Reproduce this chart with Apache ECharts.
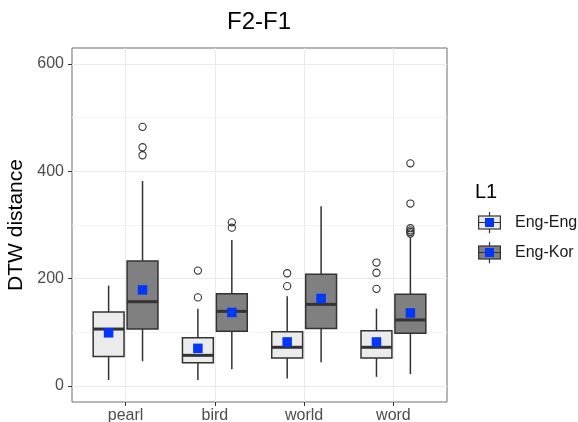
<!DOCTYPE html>
<html>
<head>
<meta charset="utf-8">
<script src="https://cdn.jsdelivr.net/npm/echarts@6/dist/echarts.min.js"></script>
<style>
html,body{margin:0;padding:0;background:#fff;}
#chart{width:578px;height:422px;}
</style>
</head>
<body>
<div id="chart"></div>
<script>
// ---- data ----
const categories = ['pearl', 'bird', 'world', 'word'];
const groupNames = ['Eng-Eng', 'Eng-Kor'];
const yTicks = [0, 200, 400, 600];
// [lower whisker, Q1, median, Q3, upper whisker]
const engEngBox = [[11, 55, 106, 138, 187], [11, 43, 57, 90, 144], [14, 52, 72, 101, 167], [17, 52, 72, 103, 144]];
const engKorBox = [[46, 106, 157, 233, 382], [31, 102, 139, 172, 272], [44, 107, 152, 208, 335], [22, 98, 123, 171, 278]];
const engEngMean = [99, 70, 82, 82];
const engKorMean = [179, 137, 163, 136];
const engEngOutliers = [[], [215, 165], [210, 186], [230, 211, 181]];
const engKorOutliers = [[483, 445, 430], [305, 295], [], [415, 340, 294, 290, 287, 284]];

// ---- styling constants ----
const FONT = '"Liberation Sans", Arial, sans-serif';
const DODGE = 0.19;      // centre offset of each group, in category bands
const HALF = 0.173;      // half box width, in category bands
const STROKE = '#333333';
const FILLS = ['#ebebeb', '#808080'];
const BLUE = '#0037ff';

function boxData(arr) { return arr.map((b, i) => [i].concat(b)); }
function pointData(arr) {
  const out = [];
  arr.forEach((vals, i) => vals.forEach(v => out.push([i, v])));
  return out;
}
function meanData(arr) { return arr.map((v, i) => [i, v]); }

function boxRenderer(sign, fill) {
  return function (params, api) {
    const x = api.value(0);
    const band = api.size([1, 0])[0];
    const cx = api.coord([x, 0])[0] + sign * DODGE * band;
    const hw = HALF * band;
    const y = k => api.coord([x, api.value(k)])[1];
    const ls = { stroke: STROKE, lineWidth: 1.5 };
    return {
      type: 'group',
      children: [
        { type: 'line', shape: { x1: cx, y1: y(1), x2: cx, y2: y(2) }, style: ls },
        { type: 'line', shape: { x1: cx, y1: y(4), x2: cx, y2: y(5) }, style: ls },
        { type: 'rect', shape: { x: cx - hw, y: y(4), width: 2 * hw, height: y(2) - y(4) },
          style: { fill: fill, stroke: STROKE, lineWidth: 1.5 } },
        { type: 'line', shape: { x1: cx - hw, y1: y(3), x2: cx + hw, y2: y(3) },
          style: { stroke: STROKE, lineWidth: 3 } }
      ]
    };
  };
}
function outlierRenderer(sign) {
  return function (params, api) {
    const x = api.value(0);
    const band = api.size([1, 0])[0];
    const p = api.coord([x, api.value(1)]);
    return { type: 'circle', shape: { cx: p[0] + sign * DODGE * band, cy: p[1], r: 3.6 },
      style: { fill: 'none', stroke: STROKE, lineWidth: 1.1 } };
  };
}
function meanRenderer(sign) {
  return function (params, api) {
    const x = api.value(0);
    const band = api.size([1, 0])[0];
    const p = api.coord([x, api.value(1)]);
    const s = 9.5;
    return { type: 'rect', shape: { x: p[0] + sign * DODGE * band - s / 2, y: p[1] - s / 2, width: s, height: s },
      style: { fill: BLUE } };
  };
}
function keyIcon(fill) {
  const svg = '<svg xmlns="http://www.w3.org/2000/svg" width="32" height="22" viewBox="0 0 32 22">' +
    '<line x1="11.5" y1="0" x2="11.5" y2="22" stroke="#333" stroke-width="1.2"/>' +
    '<rect x="0.6" y="4.5" width="21.8" height="13" fill="' + fill + '" stroke="#333" stroke-width="1.2"/>' +
    '<line x1="0.6" y1="11" x2="22.4" y2="11" stroke="#333" stroke-width="1.2"/>' +
    '<rect x="7" y="6.5" width="9" height="9" fill="' + BLUE + '"/>' +
    '</svg>';
  return 'image://data:image/svg+xml;charset=utf-8,' + encodeURIComponent(svg);
}

const chart = echarts.init(document.getElementById('chart'), null, { renderer: 'canvas' });
const option = {
  animation: false,
  backgroundColor: '#ffffff',
  textStyle: { fontFamily: FONT },
  title: [
    { text: 'F2-F1', left: 259, top: 10, textAlign: 'center', padding: 0,
      textStyle: { fontFamily: FONT, fontSize: 24, fontWeight: 'normal', color: '#000' } },
    { text: 'L1', left: 475, top: 182, padding: 0,
      textStyle: { fontFamily: FONT, fontSize: 20, fontWeight: 'normal', color: '#000' } }
  ],
  legend: {
    orient: 'vertical', left: 478, top: 211.5, padding: 0,
    itemWidth: 32, itemHeight: 22, itemGap: 8,
    selectedMode: false,
    textStyle: { fontFamily: FONT, fontSize: 16, color: '#1a1a1a' },
    data: [
      { name: groupNames[0], icon: keyIcon(FILLS[0]) },
      { name: groupNames[1], icon: keyIcon(FILLS[1]) }
    ]
  },
  grid: { left: 72, right: 131, top: 48, bottom: 20, containLabel: false, outerBoundsMode: 'none',
    show: true, borderColor: '#6f6f6f', borderWidth: 1, backgroundColor: '#fff' },
  xAxis: {
    type: 'value', min: -0.6, max: 3.6, minInterval: 1, maxInterval: 1,
    axisLine: { show: false, onZero: false },
    axisTick: { show: true, length: 4, customValues: [0, 1, 2, 3], lineStyle: { color: '#333' } },
    axisLabel: { customValues: [0, 1, 2, 3], formatter: v => categories[Math.round(v)] || '',
      fontFamily: FONT, fontSize: 16, color: '#4d4d4d', margin: 6 },
    splitLine: { show: true, lineStyle: { color: '#ebebeb', width: 1 } }
  },
  yAxis: {
    type: 'value', min: -30, max: 630, minInterval: 200, maxInterval: 200,
    name: 'DTW distance', nameLocation: 'middle', nameGap: 40,
    nameTextStyle: { fontFamily: FONT, fontSize: 21, color: '#000' },
    axisLine: { show: false, onZero: false },
    axisTick: { show: true, length: 4, customValues: yTicks, lineStyle: { color: '#333' } },
    axisLabel: { customValues: yTicks, fontFamily: FONT, fontSize: 16, color: '#4d4d4d', margin: 8 },
    splitLine: { show: true, lineStyle: { color: '#ebebeb', width: 1 } },
    minorTick: { show: false, splitNumber: 2 },
    minorSplitLine: { show: true, lineStyle: { color: '#f4f4f4', width: 1 } }
  },
  series: [
    { type: 'custom', name: groupNames[0], renderItem: boxRenderer(-1, FILLS[0]), data: boxData(engEngBox),
      encode: { x: 0, y: [1, 2, 3, 4, 5] }, silent: true, z: 2, itemStyle: { color: FILLS[0] } },
    { type: 'custom', name: groupNames[1], renderItem: boxRenderer(1, FILLS[1]), data: boxData(engKorBox),
      encode: { x: 0, y: [1, 2, 3, 4, 5] }, silent: true, z: 2, itemStyle: { color: FILLS[1] } },
    { type: 'custom', name: groupNames[0], renderItem: outlierRenderer(-1), data: pointData(engEngOutliers),
      encode: { x: 0, y: 1 }, silent: true, z: 3 },
    { type: 'custom', name: groupNames[1], renderItem: outlierRenderer(1), data: pointData(engKorOutliers),
      encode: { x: 0, y: 1 }, silent: true, z: 3 },
    { type: 'custom', name: groupNames[0], renderItem: meanRenderer(-1), data: meanData(engEngMean),
      encode: { x: 0, y: 1 }, silent: true, z: 4 },
    { type: 'custom', name: groupNames[1], renderItem: meanRenderer(1), data: meanData(engKorMean),
      encode: { x: 0, y: 1 }, silent: true, z: 4 }
  ]
};
chart.setOption(option);
</script>
</body>
</html>
